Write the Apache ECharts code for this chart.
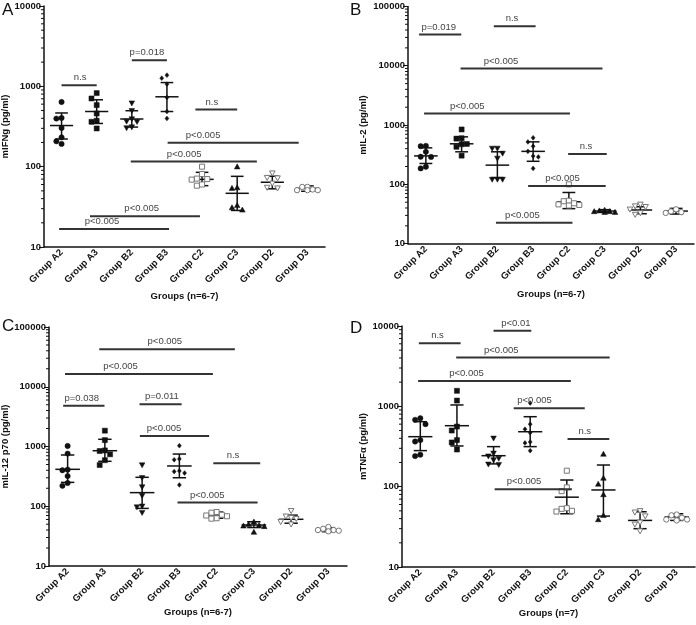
<!DOCTYPE html>
<html><head><meta charset="utf-8">
<script src="https://cdn.jsdelivr.net/npm/echarts@6/dist/echarts.min.js"></script>
<style>html,body{margin:0;padding:0;background:#fff}#c{width:696px;height:625px}</style>
</head><body><div id="c"></div>
<script>
const categories = ['Group A2','Group A3','Group B2','Group B3','Group C2','Group C3','Group D2','Group D3'];
const minorMultipliers = [2,3,4,5,6,7,8,9];

// Panel A: mIFNg
const ifngPoints = [
  [638,404,397,303,232,207,192],
  [824,706,584,459,373,362,299],
  [618,497,392,366,362,311,303],
  [1378,1263,1065,726,486,398],
  [100,81,71,70,69,60,58],
  [100,55,54,33,31,29],
  [83,73,72,62,55,54],
  [56,56,52,51,51,51]
];
const ifngMean = [325,486,392,741,69.5,46.6,64,53.7];
const ifngHigh = [466,680,497,1114,85,75.8,76,57.6];
const ifngLow  = [221,345,311,486,58,28.5,53,49.4];
// [from, to (category units), value, label position, label]
const ifngSig = [
  [0,1,1035,0.53,'n.s'],
  [2,3,2115,2.43,'p=0.018'],
  [3.81,5,515,4.28,'n.s'],
  [3.02,6.75,199,4.03,'p<0.005'],
  [1.97,5.56,116,3.49,'p<0.005'],
  [0.81,3.94,24.2,2.28,'p<0.005'],
  [-0.07,3.06,16.7,1.15,'p<0.005']
];

// Panel B: mIL-2
const il2Points = [
  [447,440,354,292,290,198,186],
  [843,600,590,480,475,430,305],
  [404,404,333,274,121,121,121],
  [610,520,440,360,300,290,186],
  [100,53,52,48,46,45,44],
  [37,36,35,35,34,34],
  [46,43,42,38,33,31],
  [38,35,34,33]
];
const il2Mean = [302,483,211,360,51,35.5,37,35.5];
const il2High = [413,632,354,521,73,37.5,42,39.4];
const il2Low  = [225,354,130,245,39,34,32,31.6];
const il2Sig = [
  [-0.19,0.99,33500,0.36,'p=0.019'],
  [1.9,3.07,46200,2.41,'n.s'],
  [0.97,4.94,8980,2.1,'p<0.005'],
  [-0.05,4.03,1568,1.16,'p<0.005'],
  [3.98,5.06,324,4.48,'n.s'],
  [2.86,5.03,93.5,3.82,'p<0.005'],
  [1.96,4.1,22.6,2.7,'p<0.005']
];

// Panel C: mIL-12 p70
const il12Points = [
  [1020,760,410,400,320,245,220],
  [1840,1280,860,840,740,590,490],
  [490,300,210,150,100,97,78],
  [1030,620,600,390,380,360,227],
  [80,78,72,70,68,63,62],
  [55,50,48,47,46,37],
  [84,68,64,62,55,50],
  [45,42,40,40,39,38]
];
const il12Mean = [415,850,169,472,71,48.5,60.5,40];
const il12High = [721,1320,305,748,80,55,71,43.8];
const il12Low  = [251,565,92,300,63,44,52,37.5];
const il12Sig = [
  [0.85,4.49,42400,2.61,'p<0.005'],
  [-0.07,3.9,16300,1.42,'p<0.005'],
  [-0.12,0.99,4820,0.38,'p=0.038'],
  [1.93,3.06,5080,2.53,'p=0.011'],
  [1.94,3.8,1500,2.59,'p<0.005'],
  [3.91,5.17,524,4.44,'n.s'],
  [2.95,5.1,115,3.75,'p<0.005']
];

// Panel D: mTNFα
const tnfPoints = [
  [710,680,600,380,365,250,240],
  [1560,1180,560,500,380,355,290],
  [400,260,240,225,215,190,188],
  [1100,600,520,470,360,350,280],
  [158,98,88,54,53,50,49],
  [255,128,108,80,44,39],
  [50,48,43,36,34,28],
  [45,44,41,39,39,38]
];
const tnfMean = [419,574,243,483,74,91,38,42];
const tnfHigh = [644,1040,315,743,121,186,48.7,46];
const tnfLow  = [281,321,192,315,46,43,30,38];
const tnfSig = [
  [2.0,3.03,8750,2.61,'p<0.01'],
  [-0.04,1.1,6100,0.47,'n.s'],
  [0.98,5.17,4040,2.21,'p<0.005'],
  [-0.06,4.11,2065,1.26,'p<0.005'],
  [2.55,4.49,946,3.12,'p<0.005'],
  [4.02,5.16,392,4.49,'n.s'],
  [2.03,4.14,92.7,2.83,'p<0.005']
];

// symbol style per group
const groupSymbols = ['circle','rect','triangleDown','diamond','rect','triangle','triangleDown','circle'];
const groupFilled  = [true,true,true,true,false,true,false,false];

const FONT = 'Liberation Sans, Arial, sans-serif';

const panels = [
  {letter:'A', letterPos:[2,2], grid:{left:44, top:6, width:281, height:241}, yMin:10, yMax:10000,
   yName:'mIFNg (pg/ml)', yGap:27, xName:'Groups (n=6-7)', xGap:44,
   points:ifngPoints, mean:ifngMean, hi:ifngHigh, lo:ifngLow, sig:ifngSig},
  {letter:'B', letterPos:[350,2], grid:{left:408, top:6.4, width:286, height:237.3}, yMin:10, yMax:100000,
   yName:'mIL-2 (pg/ml)', yGap:40, xName:'Groups (n=6-7)', xGap:46,
   points:il2Points, mean:il2Mean, hi:il2High, lo:il2Low, sig:il2Sig},
  {letter:'C', letterPos:[2,318], grid:{left:49, top:327, width:298, height:239}, yMin:10, yMax:100000,
   yName:'mIL-12 p70 (pg/ml)', yGap:32, xName:'Groups (n=6-7)', xGap:36,
   points:il12Points, mean:il12Mean, hi:il12High, lo:il12Low, sig:il12Sig},
  {letter:'D', letterPos:[350,320], grid:{left:402, top:326, width:293, height:241}, yMin:10, yMax:10000,
   yName:'mTNFα (pg/ml)', yGap:34, xName:'Groups (n=7)', xGap:40,
   points:tnfPoints, mean:tnfMean, hi:tnfHigh, lo:tnfLow, sig:tnfSig}
];

function markerEl(sym, cx, cy, s, filled) {
  const style = filled ? {fill:'#111', stroke:'#111', lineWidth:0.5} : {fill:'#fff', stroke:'#777', lineWidth:1};
  const h = s/2;
  if (sym === 'circle') return {type:'circle', shape:{cx:cx, cy:cy, r:h*0.95}, style:style};
  if (sym === 'rect') return {type:'rect', shape:{x:cx-h*0.9, y:cy-h*0.9, width:s*0.9, height:s*0.9}, style:style};
  if (sym === 'triangle') return {type:'polygon', shape:{points:[[cx,cy-h],[cx+h,cy+h*0.8],[cx-h,cy+h*0.8]]}, style:style};
  if (sym === 'triangleDown') return {type:'polygon', shape:{points:[[cx,cy+h],[cx+h,cy-h*0.8],[cx-h,cy-h*0.8]]}, style:style};
  if (sym === 'diamond') return {type:'polygon', shape:{points:[[cx,cy-h*0.85],[cx+h*0.7,cy],[cx,cy+h*0.85],[cx-h*0.7,cy]]}, style:style};
  return {type:'circle', shape:{cx:cx, cy:cy, r:h}, style:style};
}

function makeSeries(p, idx) {
  const series = [];
  // minor ticks on log axis
  const minorData = [];
  for (let v = p.yMin; v < p.yMax; v *= 10) {
    minorMultipliers.forEach(m => minorData.push([0, m*v]));
  }
  series.push({
    type:'custom', xAxisIndex:idx, yAxisIndex:idx, silent:true, clip:false, z:3,
    data:minorData,
    renderItem:function(params, api){
      const pt = api.coord([0, api.value(1)]);
      const bw = api.size([1,0])[0];
      const ax = pt[0] - bw/2;
      return {type:'line', shape:{x1:ax-3, y1:pt[1], x2:ax, y2:pt[1]}, style:{stroke:'#111', lineWidth:1}};
    }
  });
  // error bars: mean and SD
  series.push({
    type:'custom', xAxisIndex:idx, yAxisIndex:idx, silent:true, clip:false, z:4,
    data:p.mean.map((m,g)=>[g,m]),
    renderItem:function(params, api){
      const g = params.dataIndex;
      const c = api.coord([g, p.mean[g]]);
      const top = api.coord([g, p.hi[g]]);
      const bot = api.coord([g, p.lo[g]]);
      const bw = api.size([1,0])[0];
      const mw = bw*0.33, cw = bw*0.18;
      const st = {stroke:'#111', lineWidth:1.5};
      return {type:'group', children:[
        {type:'line', shape:{x1:c[0], y1:top[1], x2:c[0], y2:bot[1]}, style:st},
        {type:'line', shape:{x1:c[0]-mw, y1:c[1], x2:c[0]+mw, y2:c[1]}, style:st},
        {type:'line', shape:{x1:c[0]-cw, y1:top[1], x2:c[0]+cw, y2:top[1]}, style:st},
        {type:'line', shape:{x1:c[0]-cw, y1:bot[1], x2:c[0]+cw, y2:bot[1]}, style:st}
      ]};
    }
  });
  // individual points (column scatter, spread horizontally when overlapping)
  const ptData = [];
  p.points.forEach((arr,g)=>arr.forEach((v,j)=>ptData.push([g, v, j])));
  series.push({
    type:'custom', xAxisIndex:idx, yAxisIndex:idx, silent:true, clip:false, z:5,
    data:ptData,
    renderItem:function(params, api){
      const g = api.value(0), j = api.value(2);
      const vals = p.points[g];
      const cx = api.coord([g, vals[0]])[0];
      const ys = vals.map(v => api.coord([g, v])[1]);
      const d = 5.2, thrY = 6, thrX = 5;
      const placed = [];
      for (let k = 0; k <= j; k++) {
        let best = 0, bestScore = Infinity;
        for (let t = 0; t < 5; t++) {
          const cand = t === 0 ? 0 : (t % 2 === 1 ? -1 : 1) * Math.ceil(t/2) * d;
          let score = 0;
          placed.forEach(q => {
            const dy = Math.abs(q[1]-ys[k]), dx = Math.abs(q[0]-cand);
            if (dy < thrY && dx < thrX) score += (thrY-dy) + (thrX-dx);
          });
          if (score < bestScore - 1e-6) { bestScore = score; best = cand; }
          if (score === 0) break;
        }
        placed.push([best, ys[k]]);
      }
      const me = placed[j];
      return markerEl(groupSymbols[g], cx + me[0], me[1], 5.6, groupFilled[g]);
    }
  });
  // significance bars
  series.push({
    type:'custom', xAxisIndex:idx, yAxisIndex:idx, silent:true, clip:false, z:6,
    data:p.sig.map(s=>[0, s[2]]),
    renderItem:function(params, api){
      const s = p.sig[params.dataIndex];
      const p0 = api.coord([0, s[2]]);
      const bw = api.size([1,0])[0];
      const y = p0[1];
      return {type:'group', children:[
        {type:'line', shape:{x1:p0[0]+s[0]*bw, y1:y, x2:p0[0]+s[1]*bw, y2:y}, style:{stroke:'#333', lineWidth:2}},
        {type:'text', style:{text:s[4], x:p0[0]+s[3]*bw, y:y-2.5, align:'center', verticalAlign:'bottom',
          fontSize:9.5, fontFamily:FONT, fill:'#444'}}
      ]};
    }
  });
  return series;
}

const chart = echarts.init(document.getElementById('c'), null, {renderer:'canvas'});
const option = {
  animation:false,
  backgroundColor:'#fff',
  textStyle:{fontFamily:FONT},
  title: panels.map(p => ({text:p.letter, left:p.letterPos[0], top:p.letterPos[1], padding:0,
    textStyle:{fontSize:17, fontWeight:'normal', color:'#111', fontFamily:FONT}})),
  grid: panels.map(p => Object.assign({outerBoundsMode:'none', containLabel:false}, p.grid)),
  xAxis: panels.map((p,i) => ({
    type:'category', gridIndex:i, data:categories, boundaryGap:true,
    name:p.xName, nameLocation:'middle', nameGap:p.xGap,
    nameTextStyle:{fontSize:9.5, fontWeight:'bold', color:'#111', fontFamily:FONT},
    axisLine:{lineStyle:{color:'#111', width:1.5}},
    axisTick:{alignWithLabel:true, length:4, lineStyle:{color:'#111', width:1}},
    axisLabel:{rotate:45, interval:0, fontSize:9.5, fontWeight:'bold', color:'#111', margin:4, fontFamily:FONT, hideOverlap:false},
    splitLine:{show:false}
  })),
  yAxis: panels.map((p,i) => ({
    type:'log', logBase:10, gridIndex:i, min:p.yMin, max:p.yMax,
    name:p.yName, nameLocation:'middle', nameGap:p.yGap,
    nameTextStyle:{fontSize:9.5, fontWeight:'bold', color:'#111', fontFamily:FONT},
    axisLine:{show:true, lineStyle:{color:'#111', width:1.5}},
    axisTick:{show:true, length:5, lineStyle:{color:'#111', width:1}},
    axisLabel:{fontSize:9.5, fontWeight:'bold', color:'#111', margin:3, fontFamily:FONT,
      formatter:function(v){return String(Math.round(v));}},
    splitLine:{show:false}
  })),
  series: panels.reduce((acc,p,i)=>acc.concat(makeSeries(p,i)), [])
};
chart.setOption(option);
</script>
</body></html>
